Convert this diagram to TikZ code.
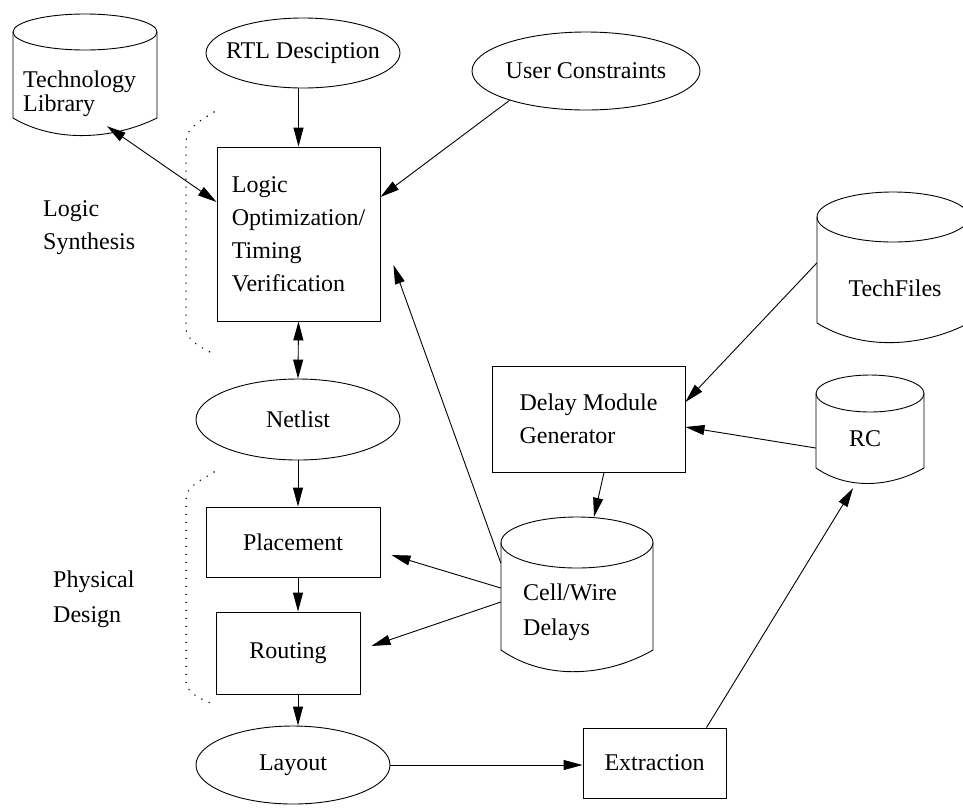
\documentclass[tikz,border=0pt]{standalone}
\usepackage{fontspec}
\setmainfont{Liberation Serif}
\usetikzlibrary{arrows.meta,shapes.geometric}
\tikzset{
  ln/.style={line width=0.9pt},
  arr/.style={ln,-{Triangle[length=19pt,width=10pt]}},
  darr/.style={ln,{Triangle[length=19pt,width=10pt]}-{Triangle[length=19pt,width=10pt]}},
  box/.style={ln,draw,rectangle,inner sep=0pt,align=left},
  ell/.style={ln,draw,ellipse,inner sep=0pt},
  txt/.style={inner sep=0pt,align=left},
  dotline/.style={line width=1.6pt,dash pattern=on 0pt off 8pt,line cap=round},
}
% #1 name, #2 left, #3 right, #4 ellipse centre y, #5 ellipse y radius, #6 side bottom, #7 lowest point
\newcommand\dbcyl[7]{%
  \draw[ln] (#2,#4) -- (#2,#6)
    .. controls ({#2+0.3*(#3-#2)},{#6+1.5*(#7-#6)}) and ({#3-0.3*(#3-#2)},{#6+1.25*(#7-#6)}) .. (#3,#6) -- (#3,#4);
  \draw[ln] ({(#2+#3)/2},#4) ellipse [x radius={(#3-#2)/2*1pt}, y radius={#5*1pt}];
  \node[inner sep=0pt, minimum width={(#3-#2)*1pt}, minimum height={(#7-#4+#5)*1pt}]
    (#1) at ({(#2+#3)/2},{(#4-#5+#7)/2}) {};
}
\begin{document}
\begin{tikzpicture}[x=1pt,y=-1pt,font=\fontsize{24}{33}\selectfont]
\useasboundingbox (0,0) rectangle (963,807);

% ellipses
\node[ell, minimum width=194pt, minimum height=70pt] (rtl) at (303,53) {\makebox[0pt]{RTL Desciption}};
\node[ell, minimum width=228pt, minimum height=78pt] (user) at (586,71) {\makebox[0pt]{User Constraints}};
\node[ell, minimum width=204pt, minimum height=81pt] (netlist) at (298,419.5) {\makebox[0pt]{Netlist}};
\node[ell, minimum width=194pt, minimum height=78pt] (layout) at (293,765) {\makebox[0pt]{Layout}};

% boxes
\node[box, minimum width=163pt, minimum height=174pt] (logic) at (298.5,234)
  {\fontsize{24}{34}\selectfont Logic\\Optimization/\\Timing\\Verification};
\node[box, minimum width=174pt, minimum height=70pt] (placement) at (293,542) {Placement};
\node[box, minimum width=144pt, minimum height=82pt] (routing) at (288,653) {Routing};
\node[box, minimum width=143pt, minimum height=70pt] (extraction) at (654.5,763) {Extraction};
\node[box, minimum width=193pt, minimum height=106pt] (delay) at (588.5,419) {Delay Module\\Generator};

% cylinders
\dbcyl{techlib}{13}{157}{32}{18}{118}{135}
\dbcyl{techfiles}{817}{969}{217}{25}{323}{342}
\dbcyl{rc}{816}{924}{393.5}{18.5}{468}{483}
\dbcyl{cellwire}{501}{653}{542.5}{25.5}{650}{671}

\node[txt, anchor=west, font=\fontsize{24}{24}\selectfont] (techlibtext) at (23,94) {Technology\\Library};
\node[txt] (techfilestext) at (895,288) {TechFiles};
\node[txt] (rctext) at (865,439) {RC};
\node[txt, anchor=west, font=\fontsize{24}{35}\selectfont] (cellwiretext) at (523,612) {Cell/Wire\\Delays};

% side labels
\node[txt, anchor=west] (synth) at (43,228) {Logic\\Synthesis};
\node[txt, anchor=west, font=\fontsize{24}{35}\selectfont] (phys) at (53,599) {Physical\\Design};

% dotted brackets
\draw[dotline] (214,112) .. controls (200,121) and (186,128) .. (186,142) -- (186,328)
  .. controls (186,340) and (200,347) .. (214,354);
\draw[dotline] (214,472) .. controls (200,481) and (186,486) .. (186,500) -- (186,682)
  .. controls (186,692) and (200,699) .. (213,704);

% connectors
\draw[arr] (logic.north |- rtl.south) -- (logic.north);
\draw[arr] (user.201) -- ([yshift=37pt]logic.east);
\draw[darr] ([xshift=22pt,yshift=9pt]techlib.south) -- ([yshift=32pt]logic.west);
\draw[darr] (logic.south) -- (netlist.north);
\draw[arr] (netlist.south) -- (netlist.south |- placement.north);
\draw[arr] (placement.south -| netlist.south) -- (routing.north -| netlist.south);
\draw[arr] (routing.south -| netlist.south) -- (layout.north -| netlist.south);
\draw[arr] (layout.east) -- (extraction.west |- layout.east);
\draw[arr] ([xshift=52pt]extraction.north) -- ([xshift=-17pt,yshift=-5pt]rc.south);
\draw[arr] ([yshift=4pt]techfiles.west) -- ([yshift=17pt]delay.east);
\draw[arr] ([yshift=-19pt]rc.west) -- ([yshift=-8pt]delay.east);
\draw[arr] ([xshift=15.5pt]delay.south) -- ([xshift=17pt]cellwire.north);
\draw[arr] ([yshift=6pt]cellwire.west) -- ([xshift=11pt,yshift=-13pt]placement.east);
\draw[arr] ([yshift=-8pt]cellwire.west) -- ([xshift=11pt,yshift=7pt]routing.east);
\draw[arr] ([yshift=31pt]cellwire.west) -- ([xshift=13pt,yshift=-31pt]logic.east);
\end{tikzpicture}
\end{document}
